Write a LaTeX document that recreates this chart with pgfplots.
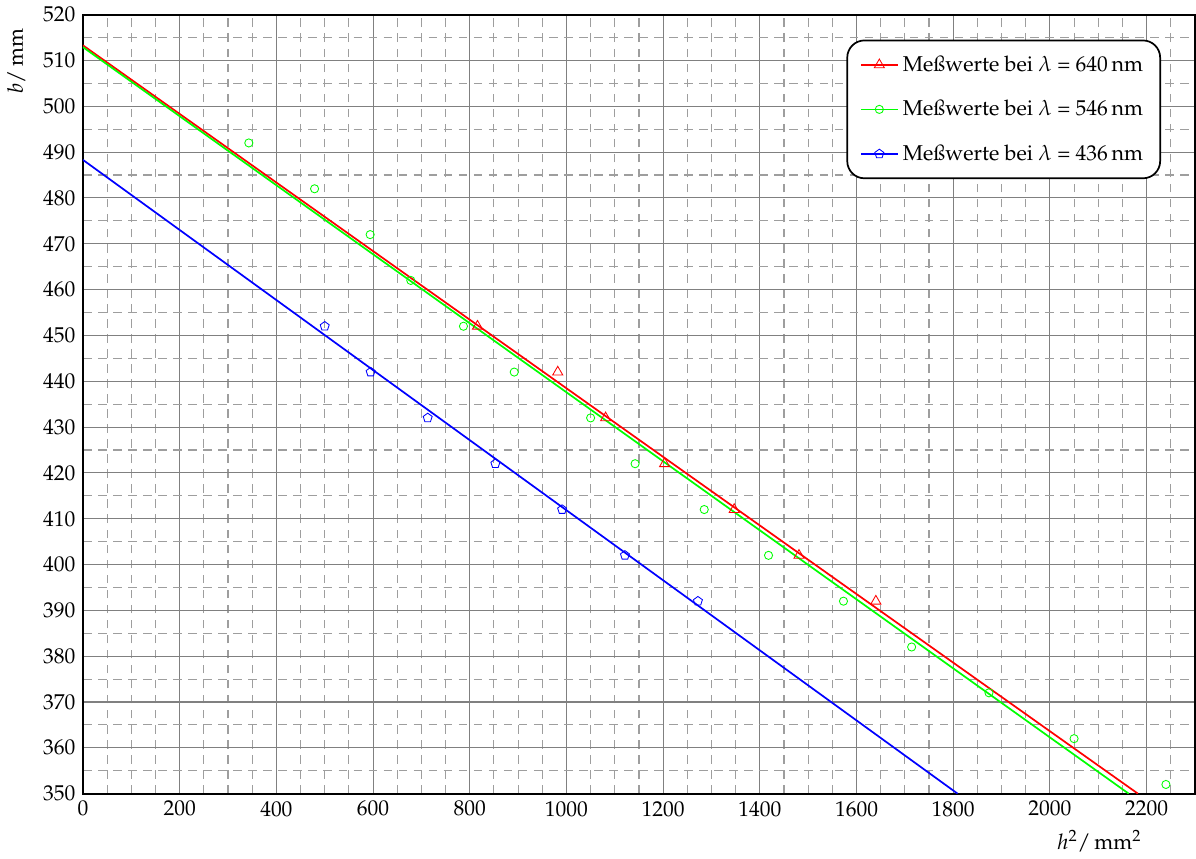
\documentclass[border=0pt]{standalone}
\usepackage{mathpazo}
\usepackage[T1]{fontenc}
\usepackage{pgfplots}
\pgfplotsset{compat=1.18}
\begin{document}
\begin{tikzpicture}
\begin{axis}[
  scale only axis,
  width=18.2cm, height=12.75cm,
  xmin=0, xmax=2300, ymin=350, ymax=520,
  xtick={0,200,...,2200},
  ytick={350,360,...,520},
  minor xtick={50,100,...,2250},
  minor ytick={355,365,...,515},
  /pgf/number format/1000 sep={},
  grid=both,
  major grid style={black!50, line width=0.5pt},
  minor grid style={black!38, dash pattern=on 4pt off 3pt, line width=0.5pt},
  tick style={draw=none},
  axis line style={black, line width=1pt},
  xlabel={$h^2$/\,mm$^2$},
  ylabel={$b$/\,mm},
  xlabel style={at={(axis description cs:0.914,0)}, anchor=north, yshift=-13.5pt},
  ylabel style={at={(axis description cs:-0.045,0.94)}, anchor=south},
  legend style={at={(0.9695,0.968)}, anchor=north east, draw=black, rounded corners=8pt,
    line width=0.8pt, inner xsep=6pt, inner ysep=5pt, row sep=8pt, font=\normalsize,
    /tikz/every even column/.append style={column sep=2pt}},
  legend cell align=left,
]
\addlegendimage{red, line width=0.8pt, mark=triangle, mark size=2.7pt, mark options={solid, line width=0.4pt}}
\addlegendentry{Me\ss werte bei $\lambda$ = 640\,nm}
\addlegendimage{green, line width=0.8pt, mark=o, mark size=1.9pt, mark options={solid, line width=0.4pt}}
\addlegendentry{Me\ss werte bei $\lambda$ = 546\,nm}
\addlegendimage{blue, line width=0.8pt, mark=pentagon, mark size=2.2pt, mark options={solid, line width=0.4pt}}
\addlegendentry{Me\ss werte bei $\lambda$ = 436\,nm}

% fit lines
\addplot[forget plot, red, line width=0.8pt] coordinates {(0,513.3) (2182,350)};
\addplot[forget plot, green, line width=0.8pt] coordinates {(0,512.9) (2163,350)};
\addplot[forget plot, blue, line width=0.8pt] coordinates {(0,488.3) (1809,350)};

% measured points
\addplot[forget plot, only marks, red, mark=triangle, mark size=2.7pt, mark options={line width=0.4pt}] coordinates {
(816,452) (982,442) (1081,432) (1203,422) (1347,412) (1481,402) (1640,392)};
\addplot[forget plot, only marks, green, mark=o, mark size=1.9pt, mark options={line width=0.4pt}] coordinates {
(343,492) (479,482) (594,472) (678,462) (787,452) (892,442) (1050,432) (1142,422) (1285,412) (1418,402) (1573,392) (1714,382) (1874,372) (2050,362) (2240,352)};
\addplot[forget plot, only marks, blue, mark=pentagon, mark size=2.2pt, mark options={line width=0.4pt}] coordinates {
(500,452) (595,442) (713,432) (853,422) (991,412) (1121,402) (1272,392)};
\end{axis}
\end{tikzpicture}
\end{document}
